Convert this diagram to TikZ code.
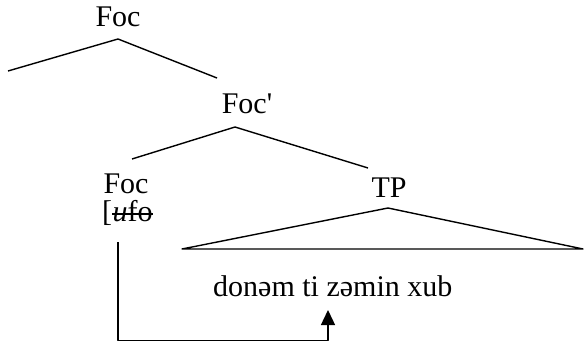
\documentclass[tikz,border=0pt]{standalone}
\usepackage{fontspec}
\setmainfont{Liberation Serif}[Ligatures=TeXOff]
\usetikzlibrary{arrows.meta}
\begin{document}
\begin{tikzpicture}[x=1pt,y=-1pt,
  lbl/.style={font=\fontsize{30}{33}\selectfont, inner sep=0pt, anchor=base},
  br/.style={line width=1.4pt, line join=round}]
\useasboundingbox (0,0) rectangle (585,342);
% top Foc
\node[lbl] (foc1) at (118,27) {Foc};
\coordinate (a1) at (118,39);
\coordinate (l1) at (8,71);
\coordinate (r1) at (217,78);
\draw[br] (l1) -- (a1) -- (r1);
% Foc'
\node[lbl] (focbar) at (247,113) {Foc'};
\coordinate (a2) at (235,127);
\coordinate (l2) at (132,159);
\coordinate (r2) at (368,168);
\draw[br] (l2) -- (a2) -- (r2);
% lower Foc
\node[lbl] (foc2) at (126,193) {Foc};
\node[lbl, anchor=base west] (brk) at (102,221) {[};
\node[lbl, anchor=base west] (ufo) at (brk.base east) {\textit{u}fo};
\draw[line width=1.3pt] ([yshift=7pt]ufo.base west) -- ([yshift=7pt]ufo.base east);
% TP
\node[lbl] (tp) at (389,197) {TP};
\coordinate (a3) at (388,208);
\coordinate (bl) at (182,249);
\coordinate (bR) at (583,249);
\draw[br] (bl) -- (a3) -- (bR) -- cycle;
\node[lbl, anchor=base west] (sent) at (213,296) {donəm ti zəmin xub};
% movement arrow
\coordinate (s) at (118,242);
\coordinate (c1) at (118,340.5);
\coordinate (c2) at (328,340.5);
\coordinate (tip) at (328,310);
\draw[br, -{Triangle[width=14pt,length=15pt]}] (s) -- (c1) -- (c2) -- (tip);
\end{tikzpicture}
\end{document}
